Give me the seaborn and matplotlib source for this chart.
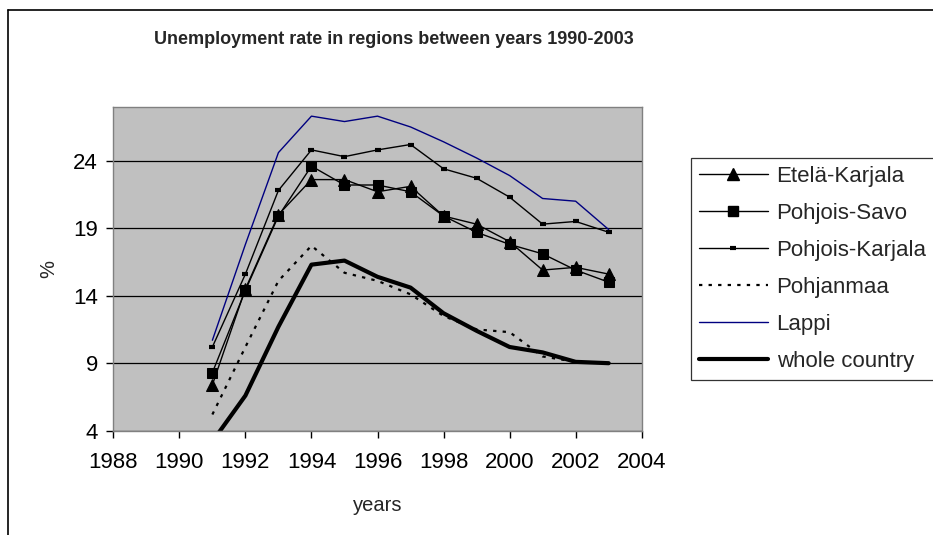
import numpy as np
import pandas as pd
import seaborn as sns
import matplotlib.pyplot as plt
from matplotlib.lines import Line2D

years = list(range(1991, 2004))
etela_karjala = [7.4, 14.5, 20.0, 22.6, 22.6, 21.7, 22.1, 19.9, 19.3, 18.0, 15.9, 16.1, 15.6]
pohjois_savo = [8.3, 14.4, 19.9, 23.6, 22.2, 22.2, 21.7, 19.9, 18.7, 17.8, 17.1, 15.9, 15.0]
pohjois_karjala = [10.2, 15.6, 21.8, 24.8, 24.3, 24.8, 25.2, 23.4, 22.7, 21.3, 19.3, 19.5, 18.7]
pohjanmaa = [5.2, 10.2, 15.1, 17.7, 15.7, 15.1, 14.1, 12.5, 11.5, 11.3, 9.5, 9.1, 9.0]
lappi = [10.7, 17.8, 24.6, 27.3, 26.9, 27.3, 26.5, 25.4, 24.2, 22.9, 21.2, 21.0, 18.9]
whole_country = [3.2, 6.6, 11.7, 16.3, 16.6, 15.4, 14.6, 12.7, 11.4, 10.2, 9.8, 9.1, 9.0]

x_ticks = list(range(1988, 2005, 2))
y_ticks = [4, 9, 14, 19, 24]

sns.set_theme(style='white')
plt.rcParams['font.family'] = ['Liberation Sans', 'DejaVu Sans']

fig = plt.figure(figsize=(9.33, 5.35), dpi=100)
ax = fig.add_axes([113.3 / 933, 1 - 430.7 / 535, (641.7 - 113.3) / 933, (430.7 - 106.7) / 535])
ax.set_facecolor('#c0c0c0')

series = [
    ('Etelä-Karjala', etela_karjala, dict(color='black', lw=1.0, marker='^', ms=8, mec='black', linestyle='-')),
    ('Pohjois-Savo', pohjois_savo, dict(color='black', lw=1.0, marker='s', ms=7.5, mec='black', linestyle='-')),
    ('Pohjois-Karjala', pohjois_karjala, dict(color='black', lw=1.0, marker='_', ms=5, mew=3, mec='black', linestyle='-')),
    ('Pohjanmaa', pohjanmaa, dict(color='black', lw=1.6, linestyle=(0, (1.5, 2.8)))),
    ('Lappi', lappi, dict(color='#000080', lw=1.0, linestyle='-')),
    ('whole country', whole_country, dict(color='black', lw=3.0, linestyle='-')),
]

handles = []
for name, vals, st in series:
    df = pd.DataFrame({'year': years, 'value': vals})
    sns.lineplot(data=df, x='year', y='value', ax=ax, **st)
    handles.append(Line2D([], [], **st))

ax.set_xlim(1988, 2004)
ax.set_ylim(4, 28)
ax.set_xticks(x_ticks)
ax.set_yticks(y_ticks)
ax.yaxis.grid(True, color='black', lw=0.9)
ax.xaxis.grid(False)
ax.set_axisbelow(True)
for s in ax.spines.values():
    s.set_color('#808080')
    s.set_linewidth(1.0)
ax.tick_params(axis='both', direction='out', length=5, width=1, color='black',
               labelsize=16, labelcolor='black', pad=6, bottom=True, left=True)
ax.tick_params(axis='x', pad=10)

ax.set_xlabel('years', fontsize=14.5, labelpad=17)
ax.set_ylabel('%', fontsize=14.5, labelpad=11)

fig.text(394 / 933, 1 - 40 / 535, 'Unemployment rate in regions between years 1990-2003',
         ha='center', va='center', fontsize=13, fontweight='bold')

# chart area border (extends past the right and bottom edges)
fig.add_artist(Line2D([8 / 933, 8 / 933], [0, 1 - 10 / 535], color='black', lw=1.2,
                      transform=fig.transFigure))
fig.add_artist(Line2D([8 / 933, 1], [1 - 10 / 535, 1 - 10 / 535], color='black', lw=1.2,
                      transform=fig.transFigure))

leg = ax.legend(handles, [s[0] for s in series], loc='upper left',
                bbox_to_anchor=(691 / 933, 1 - 158 / 535), bbox_transform=fig.transFigure,
                fontsize=16, frameon=True, fancybox=False, edgecolor='black',
                handlelength=3.1, handletextpad=0.4, labelspacing=0.72,
                borderpad=0.35, borderaxespad=0)
leg.get_frame().set_linewidth(0.9)

fig.savefig('out.png', dpi=100)
